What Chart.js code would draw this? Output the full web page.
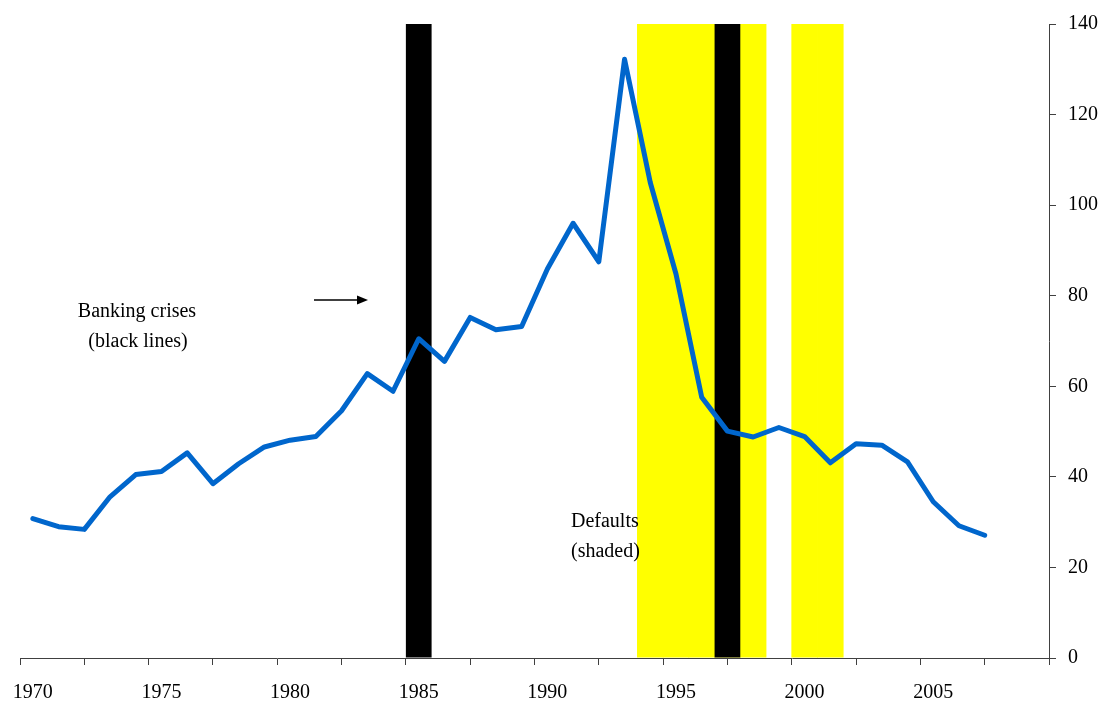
<!DOCTYPE html>
<html>
<head>
<meta charset="utf-8">
<script src="https://cdn.jsdelivr.net/npm/chart.js@4/dist/chart.umd.min.js"></script>
<style>
  html, body { margin: 0; padding: 0; background: #ffffff; }
  #wrap { width: 1103px; height: 704px; }
</style>
</head>
<body>
<div id="wrap"><canvas id="c" width="1103" height="704"></canvas></div>
<script>
// ---- data ----
const years = [1970,1971,1972,1973,1974,1975,1976,1977,1978,1979,
               1980,1981,1982,1983,1984,1985,1986,1987,1988,1989,
               1990,1991,1992,1993,1994,1995,1996,1997,1998,1999,
               2000,2001,2002,2003,2004,2005,2006,2007];
const seriesValues = [30.8,29.0,28.4,35.6,40.5,41.2,45.3,38.5,42.9,46.6,
                      48.1,48.9,54.6,62.8,58.9,70.5,65.5,75.2,72.5,73.2,
                      85.9,96.0,87.5,132.2,105.0,84.8,57.6,50.1,48.8,50.9,
                      48.9,43.1,47.3,47.0,43.3,34.5,29.2,27.1];
const bankingCrisisYears = [1985, 1997];
const defaultYears = [1994, 1995, 1996, 1997, 1998, 2000, 2001];
const xLabelYears = [1970, 1975, 1980, 1985, 1990, 1995, 2000, 2005];
const yTicks = [0, 20, 40, 60, 80, 100, 120, 140];
const xMin = 1969.5, xMax = 2009.5, xMarkStep = 2.5;
const yMax = 140;

const lineData = years.map((y, i) => ({ x: y, y: seriesValues[i] }));
const blackBars = bankingCrisisYears.map(y => ({ x: y, y: yMax }));
const yellowBars = defaultYears.map(y => ({ x: y, y: yMax }));

const FONT = "'Liberation Serif', 'Times New Roman', serif";
const AXIS = '#404040';

const annotations = {
  id: 'annotations',
  afterDatasetsDraw(chart) {
    const ctx = chart.ctx;
    ctx.save();
    ctx.fillStyle = '#000';
    ctx.font = '20px ' + FONT;
    ctx.textAlign = 'center';
    ctx.textBaseline = 'alphabetic';
    ctx.fillText('Banking crises', 137, 317);
    ctx.fillText('(black lines)', 138, 347);
    ctx.textAlign = 'left';
    ctx.fillText('Defaults', 571, 527);
    ctx.fillText('(shaded)', 571, 557);
    // arrow
    ctx.strokeStyle = '#000';
    ctx.lineWidth = 1.6;
    ctx.beginPath();
    ctx.moveTo(314, 300);
    ctx.lineTo(359, 300);
    ctx.stroke();
    ctx.beginPath();
    ctx.moveTo(368, 300);
    ctx.lineTo(357, 295.5);
    ctx.lineTo(357, 304.5);
    ctx.closePath();
    ctx.fill();
    ctx.restore();
  }
};

new Chart(document.getElementById('c'), {
  data: {
    datasets: [
      {
        type: 'line',
        data: lineData,
        borderColor: '#0066CC',
        borderWidth: 5,
        pointRadius: 0,
        tension: 0,
        fill: false,
        borderJoinStyle: 'round',
        borderCapStyle: 'round',
        order: 0
      },
      {
        type: 'bar',
        data: blackBars,
        backgroundColor: '#000000',
        borderWidth: 0,
        grouped: false,
        barPercentage: 2.0,
        categoryPercentage: 1.0,
        order: 1
      },
      {
        type: 'bar',
        data: yellowBars,
        backgroundColor: '#FFFF00',
        borderWidth: 0,
        grouped: false,
        barPercentage: 2.06,
        categoryPercentage: 1.0,
        order: 2
      }
    ]
  },
  options: {
    responsive: false,
    animation: false,
    devicePixelRatio: 1,
    layout: { padding: { left: 20, top: 23, right: 0, bottom: 0 } },
    plugins: { legend: { display: false }, tooltip: { enabled: false } },
    scales: {
      x: {
        type: 'linear',
        position: 'bottom',
        min: xMin,
        max: xMax,
        offset: false,
        afterBuildTicks(scale) {
          const t = [];
          for (let v = xMin; v <= xMax + 1e-9; v += 0.5) t.push({ value: Math.round(v * 10) / 10 });
          scale.ticks = t;
        },
        afterFit(scale) { scale.height = 46; },
        grid: {
          offset: false,
          drawOnChartArea: false,
          drawTicks: true,
          tickLength: 7,
          lineWidth: 1,
          color(ctx) {
            const v = ctx.tick ? ctx.tick.value : null;
            if (v === null || v === undefined) return 'rgba(0,0,0,0)';
            const k = (v - xMin) / xMarkStep;
            return Math.abs(k - Math.round(k)) < 1e-6 ? AXIS : 'rgba(0,0,0,0)';
          }
        },
        border: { display: true, color: AXIS, width: 1 },
        ticks: {
          autoSkip: false,
          maxRotation: 0,
          minRotation: 0,
          padding: 16,
          color: '#000',
          font: { family: FONT, size: 20 },
          callback(v) { return xLabelYears.includes(v) ? String(v) : ''; }
        }
      },
      y: {
        type: 'linear',
        position: 'right',
        min: 0,
        max: yMax,
        afterBuildTicks(scale) { scale.ticks = yTicks.map(v => ({ value: v })); },
        afterFit(scale) { scale.width = 54; },
        grid: { drawOnChartArea: false, drawTicks: true, tickLength: 7, color: AXIS },
        border: { display: true, color: AXIS, width: 1 },
        ticks: {
          padding: 12,
          color: '#000',
          font: { family: FONT, size: 20 }
        }
      }
    }
  },
  plugins: [annotations]
});
</script>
</body>
</html>
